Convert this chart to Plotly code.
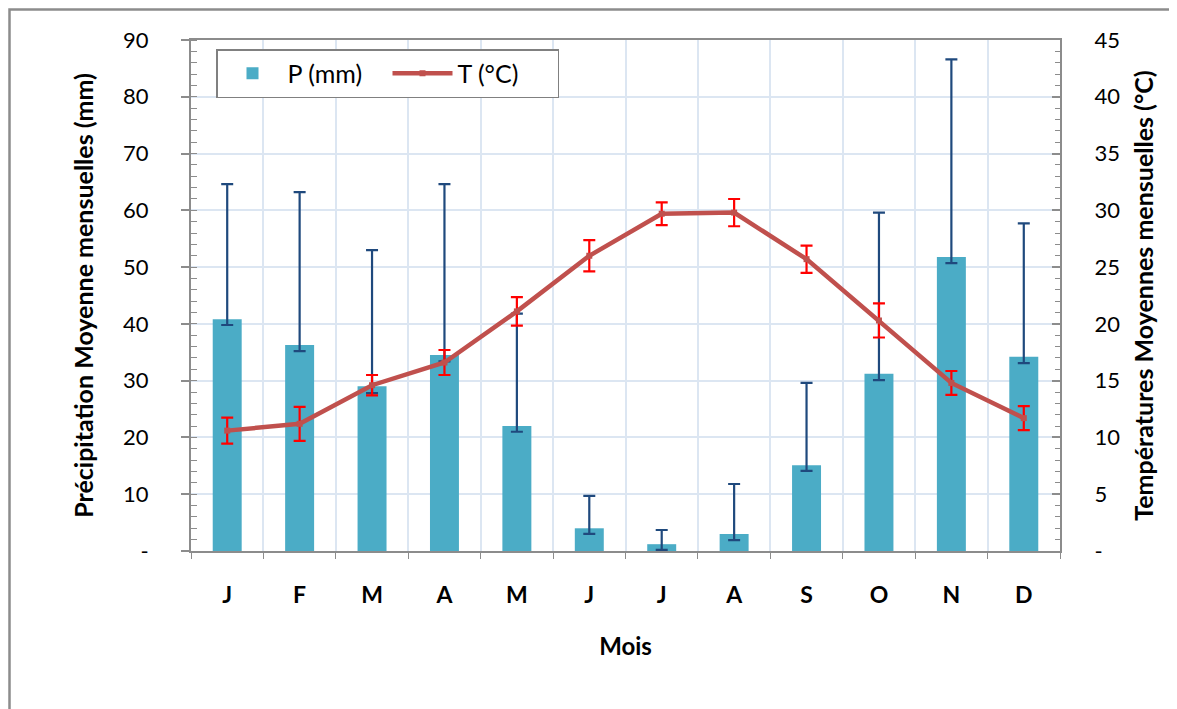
import plotly.graph_objects as go

months = ["Jan", "Fev", "Mar", "Avr", "Mai", "Juin", "Juil", "Aou", "Sep", "Oct", "Nov", "Dec"]
month_labels = ["J", "F", "M", "A", "M", "J", "J", "A", "S", "O", "N", "D"]

# Precipitation (mm)
p_mean = [40.8, 36.3, 29.0, 34.5, 22.0, 4.0, 1.2, 3.0, 15.1, 31.2, 51.8, 34.2]
p_err_plus = [23.8, 26.9, 24.0, 30.1, 19.8, 5.7, 2.5, 8.8, 14.5, 28.4, 34.8, 23.5]
p_err_minus = [1.0, 1.1, 1.2, 1.1, 1.0, 1.0, 1.0, 1.1, 1.0, 1.1, 1.1, 1.1]

# Temperature (°C)
t_mean = [10.6, 11.2, 14.6, 16.6, 21.1, 26.0, 29.7, 29.8, 25.7, 20.3, 14.8, 11.7]
t_err = [1.15, 1.5, 0.9, 1.1, 1.26, 1.38, 1.0, 1.2, 1.2, 1.5, 1.05, 1.05]

p_ticks = [0, 10, 20, 30, 40, 50, 60, 70, 80, 90]
p_ticktext = ["-", "10", "20", "30", "40", "50", "60", "70", "80", "90"]
t_ticks = [0, 5, 10, 15, 20, 25, 30, 35, 40, 45]
t_ticktext = ["-", "5", "10", "15", "20", "25", "30", "35", "40", "45"]

FONT = "Lato, 'Noto Sans', sans-serif"
AXIS_GRAY = "#8c8c8c"
GRID = "#dce6f2"

# page has an 8px body margin; plot area target: x 191..1060, y 40..551
W, H = 1169, 701
L, T = 183, 32
R = W + 8 - 1060
B = H + 8 - 551
PW = W - L - R
PH = H - T - B

def px_x(x):
    return (x - 8 - L) / PW

def px_y(y):
    return (H + 8 - B - y) / PH

fig = go.Figure()
fig.add_trace(go.Bar(
    x=months, y=p_mean, name="P (mm)",
    marker=dict(color="#4bacc6", line=dict(width=0)),
    width=0.4,
    error_y=dict(type="data", symmetric=False, array=p_err_plus, arrayminus=p_err_minus,
                 color="#1f497d", thickness=2.2, width=6),
    yaxis="y",
))
fig.add_trace(go.Scatter(
    x=months, y=t_mean, name="T (°C)", mode="lines+markers",
    line=dict(color="#c0504d", width=4.5),
    marker=dict(symbol="square", size=6, color="#c0504d"),
    error_y=dict(type="data", array=t_err, color="#ff0000", thickness=2.2, width=6),
    yaxis="y2",
))

fig.update_layout(
    width=W, height=H,
    margin=dict(l=L, r=R, t=T, b=B, autoexpand=False),
    paper_bgcolor="white", plot_bgcolor="white",
    font=dict(family=FONT, size=23, color="black"),
    showlegend=True,
    legend=dict(orientation="h", x=px_x(216), y=px_y(49), xanchor="left", yanchor="top",
                bordercolor="#808080", borderwidth=1.5, bgcolor="white",
                font=dict(size=25), itemwidth=60, entrywidth=95, tracegroupgap=0),
    xaxis=dict(
        type="category", categoryorder="array", categoryarray=months,
        tickmode="array", tickvals=months, ticktext=month_labels,
        tickson="boundaries", ticks="outside", ticklen=6, tickcolor=AXIS_GRAY, tickwidth=1,
        showline=True, linecolor=AXIS_GRAY, linewidth=2, mirror=True,
        showgrid=True, gridcolor=GRID, gridwidth=1.5,
        tickfont=dict(size=23, family=FONT, weight="bold"),
        ticklabelstandoff=22,
        title=dict(text="<b>Mois</b>", font=dict(size=24), standoff=32),
        range=[-0.5, 11.5],
    ),
    yaxis=dict(
        range=[0, 90], tickmode="array", tickvals=p_ticks, ticktext=p_ticktext,
        ticks="outside", ticklen=8, tickcolor=AXIS_GRAY, tickwidth=1.5,
        minor=dict(dtick=2, ticks="inside", ticklen=6, tickcolor=AXIS_GRAY, tickwidth=1, showgrid=False),
        showline=True, linecolor=AXIS_GRAY, linewidth=2,
        showgrid=True, gridcolor=GRID, gridwidth=1.5, zeroline=False,
        ticklabelstandoff=28,
        tickfont=dict(size=22),
        title=dict(text="<b>Précipitation Moyenne mensuelles (mm)</b>", font=dict(size=25), standoff=22),
    ),
    yaxis2=dict(
        range=[0, 45], overlaying="y", side="right", anchor="x",
        tickmode="array", tickvals=t_ticks, ticktext=t_ticktext,
        ticks="inside", ticklen=8, tickcolor=AXIS_GRAY, tickwidth=1.5,
        minor=dict(dtick=1, ticks="inside", ticklen=5, tickcolor=AXIS_GRAY, tickwidth=1, showgrid=False),
        showline=True, linecolor=AXIS_GRAY, linewidth=2,
        showgrid=False, zeroline=False,
        ticklabelstandoff=28,
        tickfont=dict(size=22),
        title=dict(text="<b>Températures Moyennes mensuelles (°C)</b>", font=dict(size=25), standoff=16),
    ),
    shapes=[dict(type="rect", xref="paper", yref="paper",
                 x0=px_x(9.5), x1=px_x(1172),
                 y0=px_y(715), y1=px_y(9.5),
                 line=dict(color="#8c8c8c", width=2.5), fillcolor="rgba(0,0,0,0)", layer="below")],
)

fig.write_html("out.html")
